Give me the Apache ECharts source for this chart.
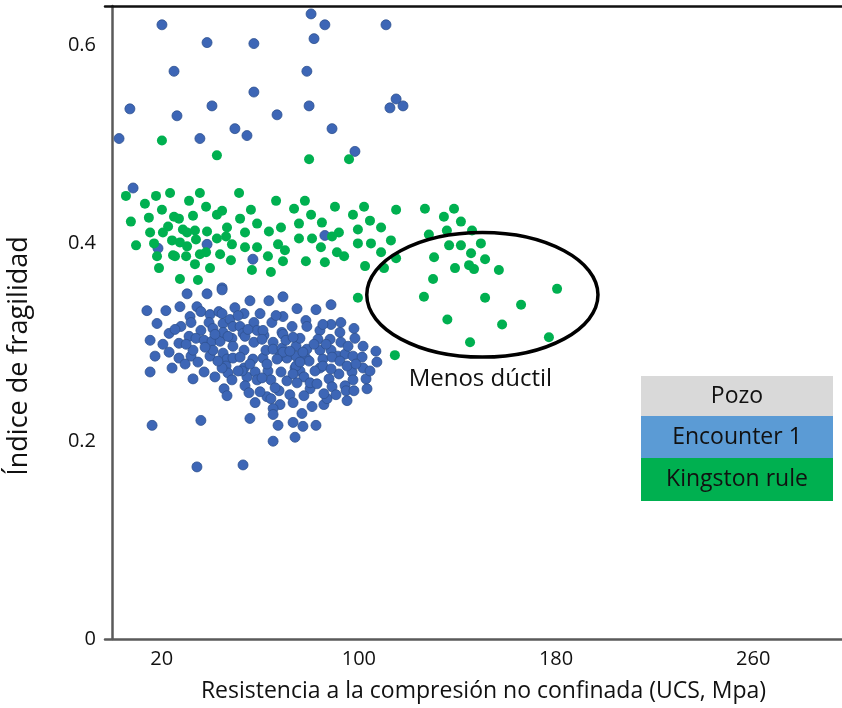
<!DOCTYPE html>
<html>
<head>
<meta charset="utf-8">
<script src="https://cdn.jsdelivr.net/npm/echarts@6/dist/echarts.min.js"></script>
<style>html,body{margin:0;padding:0;background:#fff}#c{width:842px;height:708px}</style>
</head>
<body>
<div id="c"></div>
<script>
// ---- data ----
const xTickLabels = [20, 100, 180, 260];
const yTickLabels = [0, 0.2, 0.4, 0.6];
const xAxisTitle = 'Resistencia a la compresión no confinada (UCS, Mpa)';
const yAxisTitle = 'Índice de fragilidad';
const legendItems = ['Pozo', 'Encounter 1', 'Kingston rule'];
const annotationText = 'Menos dúctil';
const annotationCenter = [150.1, 0.348];   // data units
const annotationRadii = [46.9, 0.063];     // data units

const encounterPoints = [
[80.6,0.632],[20.1,0.621],[86.2,0.621],[111.0,0.621],[38.4,0.603],[57.4,0.602],[81.8,0.607],
[25.0,0.574],[78.9,0.574],[57.4,0.553],[7.1,0.536],[26.2,0.529],[40.4,0.539],[66.8,0.530],
[79.8,0.539],[115.1,0.546],[112.6,0.537],[117.9,0.539],[2.7,0.506],[35.5,0.506],[49.7,0.516],
[54.6,0.509],[89.1,0.516],[98.4,0.493],[8.4,0.456],[18.5,0.395],[38.4,0.399],[57.0,0.384],
[86.2,0.408],[44.5,0.355],
[30.3,0.349],[38.4,0.349],[44.5,0.353],[14.0,0.332],[21.7,0.332],[27.4,0.336],[34.3,0.336],
[35.9,0.331],[39.6,0.328],[43.2,0.331],[44.5,0.329],[49.7,0.335],[53.4,0.329],[55.8,0.342],
[59.9,0.329],[63.5,0.342],[69.2,0.346],[69.2,0.326],[74.9,0.334],[82.6,0.333],[88.7,0.338],
[18.1,0.319],[27.8,0.316],[31.5,0.326],[31.9,0.320],[35.9,0.312],[39.2,0.320],[40.8,0.314],
[44.9,0.319],[47.7,0.323],[48.9,0.316],[51.8,0.316],[53.0,0.309],[57.4,0.320],[58.7,0.312],
[64.7,0.320],[68.8,0.310],[72.9,0.316],[78.5,0.322],[78.9,0.316],[84.2,0.312],[88.7,0.318],
[92.7,0.320],[98.0,0.314],[23.0,0.309],[15.3,0.302],[27.0,0.299],[31.1,0.306],[33.9,0.304],
[37.2,0.302],[40.4,0.301],[43.7,0.301],[44.9,0.310],[48.5,0.304],[48.9,0.296],[53.8,0.306],
[57.4,0.300],[61.5,0.307],[65.2,0.300],[69.2,0.308],[74.5,0.296],[76.1,0.304],[83.4,0.303],
[88.3,0.303],[92.3,0.310],[92.7,0.300],[98.4,0.304],[17.3,0.286],[23.0,0.290],[27.0,0.284],
[31.9,0.286],[32.7,0.292],[34.7,0.280],[39.6,0.286],[40.8,0.292],[44.9,0.289],[46.5,0.283],
[48.9,0.284],[53.4,0.292],[57.0,0.283],[61.1,0.284],[62.3,0.292],[65.2,0.293],[68.0,0.286],
[68.8,0.294],[70.8,0.284],[74.5,0.286],[78.5,0.284],[78.9,0.293],[84.2,0.292],[85.4,0.283],
[88.7,0.292],[91.5,0.286],[94.4,0.288],[97.6,0.286],[101.7,0.296],[101.3,0.285],[106.9,0.291],
[107.3,0.280],[15.3,0.270],[24.2,0.274],[37.2,0.270],[41.6,0.265],[46.1,0.276],[46.9,0.269],
[48.5,0.262],[53.4,0.274],[54.6,0.265],[57.9,0.270],[58.7,0.262],[63.1,0.271],[64.3,0.262],
[68.4,0.270],[70.8,0.261],[74.1,0.274],[76.1,0.271],[77.7,0.265],[80.2,0.253],[84.2,0.274],
[87.9,0.263],[91.9,0.268],[97.2,0.270],[97.6,0.262],[101.7,0.274],[102.9,0.263],[103.3,0.253],
[32.7,0.263],[45.3,0.253],[46.5,0.246],[53.8,0.256],[55.4,0.249],[57.9,0.239],[62.7,0.245],
[64.3,0.243],[67.6,0.251],[68.0,0.237],[72.0,0.247],[73.3,0.239],[77.7,0.246],[81.0,0.235],
[85.8,0.237],[87.1,0.243],[89.1,0.255],[94.4,0.256],[94.8,0.251],[98.0,0.251],[95.2,0.241],
[65.2,0.233],[65.2,0.227],[76.9,0.228],[55.8,0.223],[67.2,0.216],[73.3,0.219],[77.3,0.215],
[82.6,0.216],[16.1,0.216],[35.9,0.221],[65.2,0.200],[74.1,0.204],[34.3,0.174],[53.0,0.176],
[85.4,0.318],[69.2,0.290],[77.3,0.290],[89.1,0.285],[62.7,0.278],[66.8,0.283],[74.5,0.276],
[79.8,0.281],[82.2,0.271],[85.4,0.276],[88.7,0.273],[92.3,0.281],[95.2,0.276],[73.3,0.268],
[61.1,0.312],[46.9,0.306],[44.5,0.274],[52.6,0.271],[85.8,0.248],[80.2,0.259],[74.9,0.259],
[51.0,0.327],[60.7,0.303],[70.4,0.302],[81.8,0.298],[86.7,0.298],[95.6,0.296],[72.0,0.291],
[76.1,0.280],[60.7,0.264],[51.0,0.271],[42.8,0.281],[37.6,0.295],[29.9,0.298],[25.4,0.313],
[20.5,0.298],[51.8,0.285],[55.8,0.278],[66.0,0.254],[59.9,0.250],[83.0,0.258],[90.7,0.247],
[98.8,0.278],[104.5,0.271],[55.0,0.313],[66.4,0.327],[73.3,0.305],[41.6,0.308],[29.5,0.278]
];

const kingstonPoints = [
[20.1,0.504],[42.4,0.489],[79.8,0.485],[96.0,0.485],
[5.5,0.448],[17.7,0.448],[23.4,0.451],[35.5,0.451],[51.4,0.451],[13.2,0.440],[31.1,0.443],
[20.1,0.434],[38.0,0.437],[44.5,0.433],[42.4,0.429],[56.2,0.434],[7.5,0.422],[14.8,0.426],
[25.0,0.427],[27.0,0.425],[32.7,0.428],[51.8,0.425],[58.7,0.420],[22.6,0.417],[15.3,0.411],
[20.5,0.411],[28.6,0.414],[30.3,0.411],[33.5,0.413],[38.4,0.412],[46.5,0.416],[53.8,0.411],
[9.6,0.398],[16.9,0.400],[24.2,0.403],[27.4,0.401],[30.3,0.397],[33.9,0.404],[42.4,0.405],
[46.1,0.407],[48.5,0.399],[53.8,0.396],[58.7,0.396],[18.1,0.387],[24.6,0.388],[25.4,0.387],
[29.9,0.387],[35.5,0.389],[38.0,0.391],[43.7,0.389],[48.1,0.383],[33.5,0.379],[18.9,0.375],
[39.6,0.375],[56.6,0.373],[27.4,0.364],[34.7,0.363],
[66.4,0.443],[78.1,0.443],[73.7,0.435],[90.3,0.437],[102.1,0.437],[115.1,0.434],[80.6,0.429],
[97.6,0.429],[75.7,0.420],[85.0,0.421],[104.5,0.423],[63.5,0.412],[68.4,0.416],[91.9,0.411],
[99.6,0.414],[109.0,0.416],[89.1,0.407],[75.7,0.405],[81.0,0.405],[113.0,0.403],[67.2,0.399],
[70.0,0.393],[84.6,0.396],[99.6,0.400],[104.9,0.400],[63.1,0.387],[91.1,0.391],[94.0,0.387],
[109.0,0.391],[69.2,0.382],[78.5,0.382],[86.2,0.381],[102.5,0.377],[64.3,0.371],[110.2,0.375],
[115.1,0.385],
[126.8,0.435],[138.6,0.435],[134.5,0.427],[141.4,0.422],[128.4,0.409],[135.7,0.413],[145.9,0.413],
[136.6,0.398],[141.4,0.398],[149.5,0.400],[130.5,0.386],[145.5,0.390],[151.2,0.384],[139.0,0.375],
[144.7,0.378],[146.7,0.374],[156.8,0.373],[130.1,0.364],[99.6,0.345],[126.4,0.346],[151.2,0.345],
[180.4,0.354],[165.8,0.338],[135.9,0.323],[158.1,0.318],[177.1,0.305],[145.1,0.300],[114.6,0.287]
];

// ---- chart ----
const chart = echarts.init(document.getElementById('c'), null, {renderer: 'canvas'});
const FONT = '"Open Sans", sans-serif';
const option = {
  animation: false,
  backgroundColor: '#fff',
  grid: {left: 105, right: 0, top: 6, bottom: 68, containLabel: false},
  xAxis: [{
    type: 'value', min: -3, max: 296,
    name: xAxisTitle, nameLocation: 'middle', nameGap: 41,
    nameTextStyle: {fontFamily: FONT, fontSize: 23, color: '#111', padding: [0, 0, 0, 20]},
    axisLine: {show: true, lineStyle: {color: '#5a5a5a', width: 2.5}},
    axisTick: {show: false},
    splitLine: {show: false},
    axisLabel: {customValues: xTickLabels, fontFamily: FONT, fontSize: 20, color: '#111', margin: 10}
  }, {
    type: 'value', position: 'top', min: -3, max: 296,
    axisLine: {show: true, onZero: false, lineStyle: {color: '#111', width: 2.5}},
    axisTick: {show: false}, axisLabel: {show: false}, splitLine: {show: false}
  }],
  yAxis: {
    type: 'value', min: 0, max: 0.64,
    axisLine: {show: true, lineStyle: {color: '#5a5a5a', width: 2.5}},
    axisTick: {show: false},
    splitLine: {show: false},
    axisLabel: {customValues: yTickLabels, fontFamily: FONT, fontSize: 20, color: '#111', margin: 9}
  },
  series: [{
    name: legendItems[1], type: 'scatter', data: encounterPoints, symbolSize: 10,
    itemStyle: {color: '#3d66b6', borderColor: '#2f528f', borderWidth: 0.8, opacity: 1}
  }, {
    name: legendItems[2], type: 'scatter', data: kingstonPoints, symbolSize: 10,
    itemStyle: {color: '#00b050', opacity: 1}
  }]
};
chart.setOption(option);

const c = chart.convertToPixel({gridIndex: 0}, annotationCenter);
const e = chart.convertToPixel({gridIndex: 0}, [annotationCenter[0] + annotationRadii[0], annotationCenter[1] + annotationRadii[1]]);
const rx = e[0] - c[0], ry = c[1] - e[1];
const legendColors = ['#d9d9d9', '#5b9bd5', '#00b050'];
const legendRowH = [40, 42, 43];
const legendEls = [];
let ly = 376;
legendItems.forEach((t, i) => {
  legendEls.push({type: 'rect', shape: {x: 641, y: ly, width: 192, height: legendRowH[i]}, style: {fill: legendColors[i]}});
  legendEls.push({type: 'text', x: 737, y: ly + legendRowH[i] / 2, style: {text: t, fontFamily: FONT, fontSize: 23, fill: '#111', align: 'center', verticalAlign: 'middle'}});
  ly += legendRowH[i];
});
chart.setOption({
  graphic: [
    {type: 'ellipse', shape: {cx: c[0], cy: c[1], rx: rx, ry: ry}, style: {fill: null, stroke: '#000', lineWidth: 3.5}, z: 10},
    {type: 'text', x: c[0] - 2, y: c[1] + ry + 22, style: {text: annotationText, fontFamily: FONT, fontSize: 24, fill: '#111', align: 'center', verticalAlign: 'middle'}, z: 10},
    {type: 'text', x: 19, y: 356, rotation: Math.PI / 2, style: {text: yAxisTitle, fontFamily: FONT, fontSize: 27, fill: '#111', align: 'center', verticalAlign: 'middle'}, z: 10}
  ].concat(legendEls)
});
</script>
</body>
</html>
